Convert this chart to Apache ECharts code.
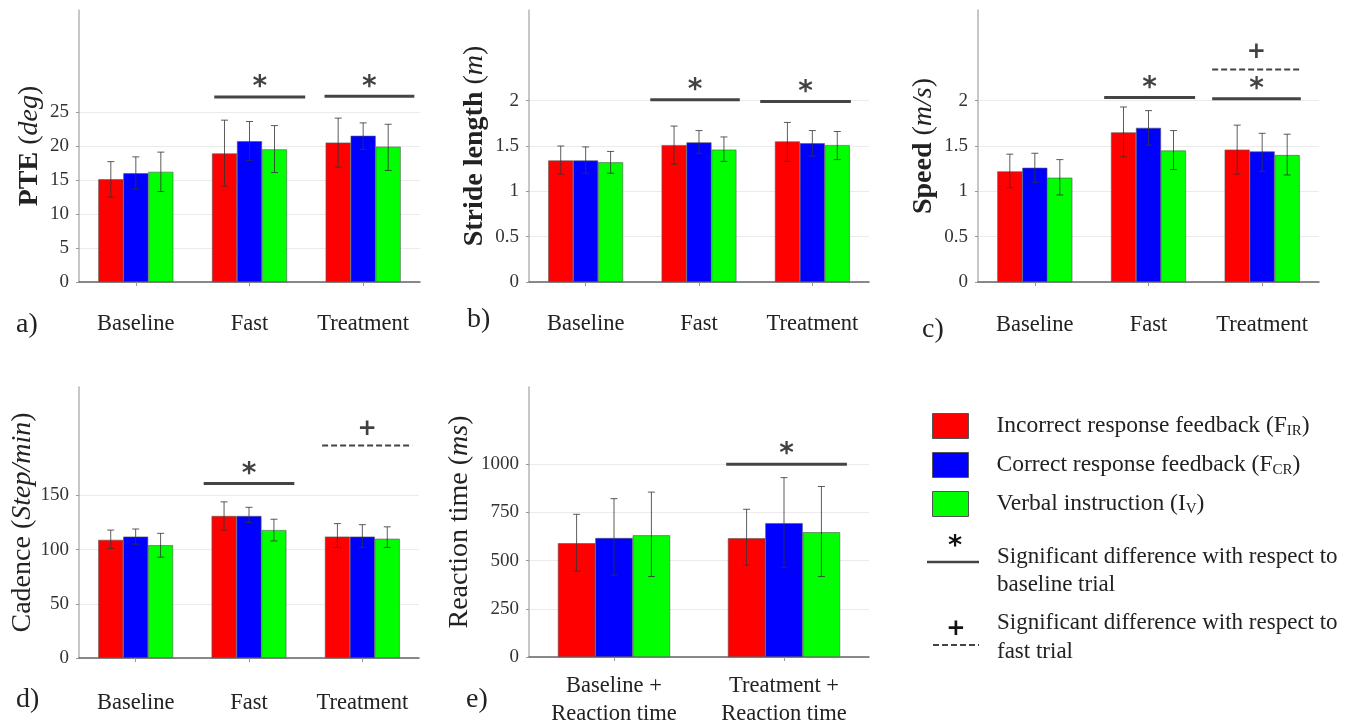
<!DOCTYPE html>
<html>
<head>
<meta charset="utf-8">
<script src="https://cdn.jsdelivr.net/npm/echarts@6/dist/echarts.min.js"></script>
<style>
  html, body { margin: 0; background: #fff; }
  #chart { width: 1355px; height: 728px; }
</style>
</head>
<body>
<div id="chart"></div>
<script>
// categories
const trials = ['Baseline', 'Fast', 'Treatment']
const rtTrials = ['Baseline +\nReaction time', 'Treatment +\nReaction time']
const groupNames = ['Incorrect response feedback', 'Correct response feedback', 'Verbal instruction']

// rows: F_IR, F_CR, I_V ; low/high are the error bar ends
const pteMean = [[15.1, 18.9, 20.5], [16.0, 20.7, 21.5], [16.2, 19.5, 19.9]]
const pteLow = [[12.5, 14.1, 16.9], [13.7, 17.9, 19.5], [13.3, 16.1, 16.4]]
const pteHigh = [[17.7, 23.8, 24.1], [18.4, 23.6, 23.4], [19.1, 23.0, 23.2]]

const strideMean = [[1.34, 1.51, 1.55], [1.34, 1.54, 1.53], [1.32, 1.46, 1.51]]
const strideLow = [[1.19, 1.30, 1.33], [1.20, 1.42, 1.39], [1.20, 1.33, 1.35]]
const strideHigh = [[1.50, 1.72, 1.76], [1.49, 1.67, 1.67], [1.44, 1.60, 1.66]]

const speedMean = [[1.22, 1.65, 1.46], [1.26, 1.70, 1.44], [1.15, 1.45, 1.40]]
const speedLow = [[1.04, 1.38, 1.19], [1.10, 1.51, 1.22], [0.96, 1.24, 1.18]]
const speedHigh = [[1.41, 1.93, 1.73], [1.42, 1.89, 1.64], [1.35, 1.67, 1.63]]

const cadMean = [[109, 131, 112], [112, 131, 112], [104, 118, 110]]
const cadLow = [[101, 118, 102], [105, 125, 102], [93, 108, 102]]
const cadHigh = [[118, 144, 124], [119, 139, 123], [115, 128, 121]]

const rtMean = [[590, 616], [617, 694], [631, 647]]
const rtLow = [[445, 476], [424, 465], [417, 417]]
const rtHigh = [[740, 766], [821, 930], [855, 884]]

// y tick labels
const pteTicks = [0, 5, 10, 15, 20, 25]
const strideTicks = [0, 0.5, 1, 1.5, 2]
const speedTicks = [0, 0.5, 1, 1.5, 2]
const cadTicks = [0, 50, 100, 150]
const rtTicks = [0, 250, 500, 750, 1000]

// significance bars: [from, to (category units), level, mark]
const pteSig = [[0.69, 1.49, 27.2, '*'], [1.66, 2.45, 27.3, '*']]
const strideSig = [[0.57, 1.36, 2.01, '*'], [1.54, 2.34, 1.99, '*']]
const speedSig = [[0.61, 1.41, 2.035, '*'], [1.56, 2.34, 2.02, '*'], [1.56, 2.34, 2.345, '+']]
const cadSig = [[0.60, 1.40, 161, '*'], [1.645, 2.44, 196, '+']]
const rtSig = [[0.66, 1.37, 1000, '*']]

const colors = ['#ff0000', '#0000ff', '#00ff00']
const serif = 'Liberation Serif'
const ink = '#222'

const panels = [
  { cats: trials, mean: pteMean, low: pteLow, high: pteHigh, ticks: pteTicks, max: 40, step: 5, sig: pteSig,
    name: '{b|PTE }{r|(}{i|deg}{r|)}', weight: 'bold', nameGap: 35, labelMargin: 28,
    box: { left: 79, top: 10, width: 341, height: 272 }, tag: ['a)', 16, 325] },
  { cats: trials, mean: strideMean, low: strideLow, high: strideHigh, ticks: strideTicks, max: 3, step: 0.5, sig: strideSig,
    name: '{b|Stride length }{r|(}{i|m}{r|)}', weight: 'bold', nameGap: 40, labelMargin: 28,
    box: { left: 529, top: 10, width: 340, height: 272 }, tag: ['b)', 467, 320] },
  { cats: trials, mean: speedMean, low: speedLow, high: speedHigh, ticks: speedTicks, max: 3, step: 0.5, sig: speedSig,
    name: '{b|Speed }{r|(}{i|m/s}{r|)}', weight: 'bold', nameGap: 40, labelMargin: 29,
    box: { left: 978, top: 10, width: 341, height: 272 }, tag: ['c)', 922, 330] },
  { cats: trials, mean: cadMean, low: cadLow, high: cadHigh, ticks: cadTicks, max: 250, step: 50, sig: cadSig,
    name: '{b|Cadence }{r|(}{i|Step/min}{r|)}', weight: 'normal', nameGap: 40, labelMargin: 31,
    box: { left: 79, top: 387, width: 340, height: 271 }, tag: ['d)', 16, 700] },
  { cats: rtTrials, mean: rtMean, low: rtLow, high: rtHigh, ticks: rtTicks, max: 1400, step: 250, sig: rtSig,
    name: '{b|Reaction time }{r|(}{i|ms}{r|)}', weight: 'normal', nameGap: 55, labelMargin: 15,
    box: { left: 529, top: 387, width: 340, height: 271 }, tag: ['e)', 466, 700] }
]

function errorBar(s) {
  return function (params, api) {
    const lo = api.coord([api.value(0), api.value(1)])
    const hi = api.coord([api.value(0), api.value(2)])
    const w = api.size([1, 0])[0] * 0.66 / 3
    const x = lo[0] + (s - 1) * w
    const style = { stroke: '#333', lineWidth: 1, opacity: 0.8 }
    return {
      type: 'group',
      children: [
        { type: 'line', shape: { x1: x, y1: lo[1], x2: x, y2: hi[1] }, style },
        { type: 'line', shape: { x1: x - 3.5, y1: lo[1], x2: x + 3.5, y2: lo[1] }, style },
        { type: 'line', shape: { x1: x - 3.5, y1: hi[1], x2: x + 3.5, y2: hi[1] }, style }
      ]
    }
  }
}

const option = {
  animation: false,
  grid: [], xAxis: [], yAxis: [], series: [],
  legend: {
    data: groupNames,
    orient: 'vertical',
    left: 932,
    top: 413,
    padding: 0,
    itemWidth: 36,
    itemHeight: 25,
    itemGap: 13,
    icon: 'rect',
    selectedMode: false,
    itemStyle: { borderColor: '#555', borderWidth: 1 },
    formatter: function (name) {
      const sub = { 'Incorrect response feedback': ['F', 'IR'], 'Correct response feedback': ['F', 'CR'], 'Verbal instruction': ['I', 'V'] }[name]
      return '{t|' + name + ' (' + sub[0] + '}{s|' + sub[1] + '}{t|)}'
    },
    textStyle: {
      padding: [0, 0, 0, 23],
      rich: {
        t: { fontFamily: serif, fontSize: 23.5, color: ink, lineHeight: 26 },
        s: { fontFamily: serif, fontSize: 15, color: ink, verticalAlign: 'bottom', lineHeight: 16 }
      }
    }
  },
  graphic: []
}

panels.forEach(function (p, k) {
  option.grid.push(p.box)
  option.xAxis.push({
    type: 'category', gridIndex: k, data: p.cats,
    axisLine: { lineStyle: { color: '#666', width: 1.5 } },
    axisTick: { show: true, alignWithLabel: true, length: 4, lineStyle: { color: '#999' } },
    axisLabel: { interval: 0, fontFamily: serif, fontSize: 22.5, color: ink, margin: p.labelMargin, lineHeight: 28 }
  })
  // hidden value axis for placing the significance bars
  option.xAxis.push({ type: 'value', gridIndex: k, min: -0.5, max: p.cats.length - 0.5, show: false })
  option.yAxis.push({
    type: 'value', gridIndex: k, min: 0, max: p.max, interval: p.step,
    axisLine: { show: true, onZero: false, lineStyle: { color: '#b5b5b5', width: 1.5 } },
    axisTick: { show: true, length: 3, customValues: p.ticks, lineStyle: { color: '#999' } },
    axisLabel: {
      customValues: p.ticks, fontFamily: serif, fontSize: 19, color: '#333', margin: 10,
      formatter: function (v) { return String(v) }
    },
    splitLine: {
      show: true,
      lineStyle: { color: p.ticks.map(function () { return '#ebebeb' }).concat(new Array(20).fill('rgba(0,0,0,0)')) }
    },
    name: p.name,
    nameLocation: 'middle',
    nameGap: p.nameGap,
    nameTextStyle: {
      rich: {
        b: { fontFamily: serif, fontSize: 28, fontWeight: p.weight, color: ink },
        r: { fontFamily: serif, fontSize: 28, color: ink },
        i: { fontFamily: serif, fontSize: 28, fontStyle: 'italic', color: ink }
      }
    }
  })

  p.mean.forEach(function (vals, s) {
    option.series.push({
      type: 'bar', name: groupNames[s], xAxisIndex: 2 * k, yAxisIndex: k, data: vals,
      barGap: 0, barCategoryGap: '34%', silent: true,
      itemStyle: { color: colors[s], borderColor: '#555', borderWidth: 0.6 }
    })
    option.series.push({
      type: 'custom', xAxisIndex: 2 * k, yAxisIndex: k, z: 5, silent: true,
      data: vals.map(function (v, i) { return [i, p.low[s][i], p.high[s][i]] }),
      encode: { x: 0, y: [1, 2] },
      renderItem: errorBar(s)
    })
  })

  p.sig.forEach(function (b) {
    const dashed = b[3] === '+'
    option.series.push({
      type: 'line', xAxisIndex: 2 * k + 1, yAxisIndex: k, silent: true, symbol: 'none',
      data: [[b[0], b[2]], [b[1], b[2]]],
      lineStyle: { color: '#444', width: dashed ? 2 : 3, type: dashed ? [6, 3] : 'solid' }
    })
    option.series.push({
      type: 'scatter', xAxisIndex: 2 * k + 1, yAxisIndex: k, silent: true, symbolSize: 0,
      data: [[(b[0] + b[1]) / 2, b[2]]],
      label: {
        show: true, position: 'inside', formatter: b[3], offset: [0, dashed ? -17 : -9],
        fontFamily: 'DejaVu Sans', fontWeight: 'bold', fontSize: dashed ? 23 : 28, color: '#111'
      }
    })
  })

  option.graphic.push({
    type: 'text', x: p.tag[1], y: p.tag[2],
    style: { text: p.tag[0], font: '28px "Liberation Serif"', fill: ink, textVerticalAlign: 'middle' }
  })
})

// significance key
const keyFont = '23px "Liberation Serif"'
option.graphic.push(
  { type: 'text', x: 955, y: 547, style: { text: '*', font: 'bold 27px "DejaVu Sans"', fill: '#111', textAlign: 'center', textVerticalAlign: 'middle' } },
  { type: 'line', shape: { x1: 927, y1: 562, x2: 979, y2: 562 }, style: { stroke: '#444', lineWidth: 2.5 } },
  { type: 'text', x: 997, y: 571, style: { text: 'Significant difference with respect to\nbaseline trial', font: keyFont, fill: ink, lineHeight: 28, textVerticalAlign: 'middle' } },
  { type: 'text', x: 956, y: 629, style: { text: '+', font: 'bold 23px "DejaVu Sans"', fill: '#111', textAlign: 'center', textVerticalAlign: 'middle' } },
  { type: 'line', shape: { x1: 933, y1: 645, x2: 979, y2: 645 }, style: { stroke: '#444', lineWidth: 2, lineDash: [6, 3] } },
  { type: 'text', x: 997, y: 637, style: { text: 'Significant difference with respect to\nfast trial', font: keyFont, fill: ink, lineHeight: 29, textVerticalAlign: 'middle' } }
)

const chart = echarts.init(document.getElementById('chart'))
chart.setOption(option)
</script>
</body>
</html>
